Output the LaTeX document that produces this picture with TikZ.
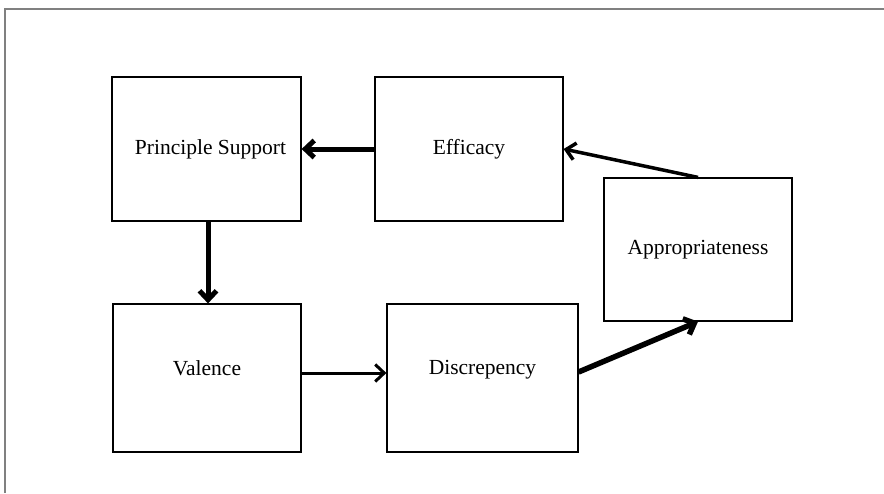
\documentclass[tikz,border=0pt]{standalone}
\usepackage{fontspec}
\setmainfont{Liberation Serif}
\usetikzlibrary{arrows.meta}
\begin{document}
\begin{tikzpicture}[x=1pt,y=-1pt,
  box/.style={draw=black, line width=1.2pt, inner sep=0pt, font=\fontsize{21.5}{25}\selectfont},
  txt/.style={font=\fontsize{21.5}{25}\selectfont, inner sep=0pt},
  link/.style={-{Straight Barb[length=9pt,width=17pt]}, line cap=butt}]
\useasboundingbox (0,0) rectangle (884,493);
\draw[gray, line width=2pt] (4.5,493) -- (4.5,9) -- (884,9);
\node[box, minimum width=189pt, minimum height=144pt] (ps) at (206.5,149) {};
\node[box, minimum width=188pt, minimum height=144pt] (eff) at (469,149) {Efficacy};
\node[box, minimum width=188pt, minimum height=143pt] (app) at (698,249.5) {Appropriateness};
\node[box, minimum width=188pt, minimum height=148pt] (val) at (207,378) {};
\node[box, minimum width=191pt, minimum height=148pt] (dis) at (482.5,378) {};
\node[txt] (pst) at ([xshift=4pt]ps.center) {Principle Support};
\node[txt] (valt) at ([yshift=10pt]val.center) {Valence};
\node[txt] (dist) at ([yshift=8pt]dis.center) {Discrepency};
\draw[link, line width=5pt] (eff.west) -- (ps.east);
\draw[link, line width=5pt] ([xshift=1.5pt]ps.south) -- ([xshift=1pt]val.north);
\draw[link, line width=3pt] ([yshift=5pt]val.east) -- ([yshift=5pt]dis.west);
\draw[link, line width=5.5pt] ([yshift=6pt]dis.east) -- (app.south);
\draw[link, line width=3.5pt] (app.north) -- (eff.east);
\end{tikzpicture}
\end{document}
